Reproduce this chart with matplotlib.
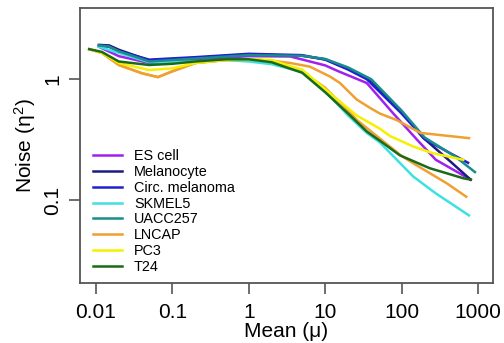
import matplotlib.pyplot as plt

plt.rcParams['font.family'] = ['Liberation Sans', 'DejaVu Sans']
plt.rcParams['mathtext.fontset'] = 'custom'
plt.rcParams['mathtext.rm'] = 'Liberation Sans'
plt.rcParams['mathtext.it'] = 'Liberation Sans'

# mean values (x) and noise values (y)
es_x = [0.011, 0.02, 0.05, 0.2, 1, 3.5, 10, 15, 35, 78, 160, 280, 800]
es_y = [1.85, 1.55, 1.36, 1.45, 1.55, 1.54, 1.30, 1.16, 0.93, 0.52, 0.315, 0.216, 0.148]

mel_x = [0.011, 0.015, 0.02, 0.05, 0.2, 1, 5, 10, 20, 35, 95, 190, 430, 800]
mel_y = [1.92, 1.90, 1.75, 1.43, 1.50, 1.60, 1.56, 1.46, 1.22, 1.02, 0.56, 0.33, 0.21, 0.148]

circ_x = [0.011, 0.015, 0.02, 0.05, 0.2, 1, 5, 10, 20, 35, 100, 200, 430, 740]
circ_y = [1.90, 1.85, 1.70, 1.45, 1.52, 1.62, 1.58, 1.45, 1.20, 1.00, 0.52, 0.32, 0.245, 0.204]

skmel_x = [0.011, 0.02, 0.05, 0.2, 0.5, 1, 2, 5, 10, 20, 35, 52, 142, 280, 760]
skmel_y = [1.85, 1.65, 1.38, 1.40, 1.44, 1.40, 1.33, 1.15, 0.80, 0.50, 0.36, 0.30, 0.157, 0.114, 0.075]

uacc_x = [0.011, 0.015, 0.02, 0.05, 0.2, 1, 5, 10, 20, 40, 100, 200, 500, 910]
uacc_y = [1.90, 1.86, 1.70, 1.40, 1.48, 1.58, 1.56, 1.47, 1.25, 1.00, 0.55, 0.33, 0.23, 0.171]

lncap_x = [0.0082, 0.012, 0.02, 0.04, 0.065, 0.1, 0.2, 0.5, 1, 2, 3.5, 6.3, 11.6, 15.6, 25.8, 38.5, 52, 86, 176, 760]
lncap_y = [1.77, 1.65, 1.31, 1.12, 1.04, 1.16, 1.36, 1.44, 1.46, 1.42, 1.36, 1.27, 1.05, 0.93, 0.68, 0.58, 0.52, 0.46, 0.36, 0.326]

lncap2_x = [0.0082, 0.012, 0.02, 0.04, 0.065, 0.1, 0.2, 0.5, 1, 2, 3.5, 5, 10, 20, 26, 50, 100, 142, 390, 700]
lncap2_y = [1.77, 1.65, 1.31, 1.12, 1.04, 1.16, 1.36, 1.44, 1.46, 1.42, 1.25, 1.15, 0.85, 0.55, 0.46, 0.33, 0.232, 0.202, 0.138, 0.107]

pc3_x = [0.0082, 0.012, 0.02, 0.05, 0.1, 0.2, 0.5, 1, 2, 3.5, 5, 9.5, 26, 52, 70, 142, 255, 640]
pc3_y = [1.77, 1.65, 1.36, 1.19, 1.23, 1.36, 1.44, 1.46, 1.44, 1.28, 1.20, 0.85, 0.50, 0.39, 0.34, 0.278, 0.245, 0.216]

t24_x = [0.0082, 0.012, 0.015, 0.02, 0.05, 0.1, 0.2, 0.5, 1, 2, 3.5, 5, 10, 20, 35, 52, 95, 233, 640, 800]
t24_y = [1.77, 1.68, 1.55, 1.40, 1.31, 1.34, 1.40, 1.46, 1.46, 1.38, 1.22, 1.13, 0.78, 0.52, 0.37, 0.31, 0.235, 0.184, 0.152, 0.148]

series = [
    (es_x, es_y, '#a020f0', 'ES cell'),
    (mel_x, mel_y, '#1c1c80', 'Melanocyte'),
    (circ_x, circ_y, '#2020d0', 'Circ. melanoma'),
    (skmel_x, skmel_y, '#40e0e0', 'SKMEL5'),
    (uacc_x, uacc_y, '#1a8c8c', 'UACC257'),
    (lncap_x, lncap_y, '#f0a030', 'LNCAP'),
    (pc3_x, pc3_y, '#f5f000', 'PC3'),
    (t24_x, t24_y, '#1a6a1a', 'T24'),
]

fig = plt.figure(figsize=(5.04, 3.43), dpi=100)
ax = fig.add_axes([0.159, 0.175, 0.819, 0.802])

# second orange curve (not in legend)
ax.plot(lncap2_x, lncap2_y, color='#f0a030', lw=1.8)
for x, y, c, lab in series:
    ax.plot(x, y, color=c, lw=1.8, label=lab)

ax.set_xscale('log')
ax.set_yscale('log')
ax.set_xlim(0.00624, 1563)
ax.set_ylim(0.02075, 3.88)

ax.set_xticks([0.01, 0.1, 1, 10, 100, 1000])
ax.set_xticklabels(['0.01', '0.1', '1', '10', '100', '1000'])
ax.set_yticks([0.1, 1])
ax.set_yticklabels(['0.1', '1'], rotation=90, va='center')
ax.minorticks_off()
ax.tick_params(direction='out', length=8, width=1.2, colors='#555555',
               labelsize=15, labelcolor='black')
ax.tick_params(axis='x', pad=6.5)
ax.tick_params(axis='y', pad=5)

for s in ax.spines.values():
    s.set_color('#555555')
    s.set_linewidth(1.3)

ax.set_xlabel('Mean (μ)', fontsize=15, labelpad=0)
ax.set_ylabel(r'Noise ($\eta^2$)', fontsize=15, labelpad=3.5)

ax.legend(loc='lower left', bbox_to_anchor=(0.031, 0.034), frameon=False,
          fontsize=10.4, handlelength=2.0, handletextpad=0.85,
          labelspacing=0.12, borderpad=0, borderaxespad=0)

fig.savefig('out.png', dpi=100)
